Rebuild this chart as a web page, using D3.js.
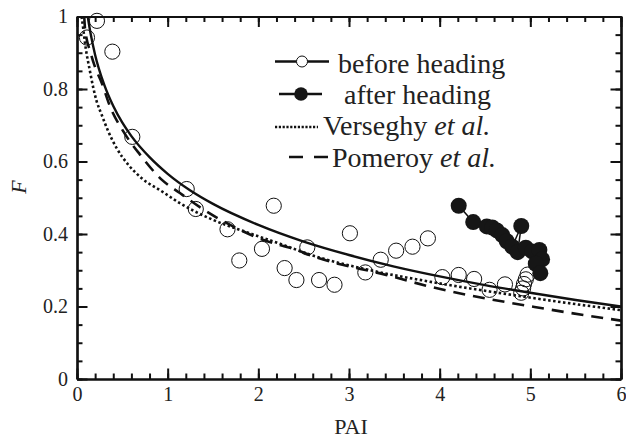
<!DOCTYPE html>
<html>
<head>
<meta charset="utf-8">
<script src="https://cdn.jsdelivr.net/npm/d3@7"></script>
<style>
  body { margin: 0; background: #fff; }
  svg text { font-family: "Liberation Serif", "Tinos", "Times New Roman", "DejaVu Serif", serif; }
</style>
</head>
<body>
<div id="chart"></div>
<script>
// measured points, before heading (open circles)
const beforePAI = [0.11, 0.22, 0.39, 0.61, 1.21, 1.31, 1.66, 1.79, 2.04, 2.17, 2.29, 2.42, 2.54, 2.67, 2.84,
  3.01, 3.18, 3.35, 3.52, 3.70, 3.87, 4.03, 4.21, 4.38, 4.55, 4.72, 4.90, 4.92, 4.93, 4.95, 4.97];
const beforeF = [0.942, 0.988, 0.903, 0.668, 0.524, 0.469, 0.413, 0.327, 0.359, 0.478, 0.306, 0.273, 0.363, 0.273, 0.260,
  0.402, 0.294, 0.329, 0.354, 0.365, 0.388, 0.281, 0.287, 0.276, 0.246, 0.261, 0.238, 0.250, 0.262, 0.275, 0.288];

// measured points, after heading (filled circles)
const afterPAI = [4.21, 4.37, 4.52, 4.58, 4.63, 4.69, 4.74, 4.80, 4.90, 4.86, 4.95, 5.02, 5.10, 5.13, 5.06, 5.11];
const afterF = [0.478, 0.433, 0.421, 0.418, 0.410, 0.397, 0.380, 0.365, 0.422, 0.350, 0.362, 0.352, 0.356, 0.330, 0.318, 0.292];

// fitted curve (solid)
const fitPAI = [0.118, 0.15, 0.2, 0.3, 0.4, 0.5, 0.6, 0.8, 1.0, 1.25, 1.5, 2, 2.5, 3, 3.5, 4, 4.5, 5, 5.5, 6];
const fitF = [1.0, 0.953, 0.894, 0.812, 0.753, 0.707, 0.670, 0.612, 0.566, 0.520, 0.483, 0.425, 0.379, 0.342, 0.310, 0.283, 0.259, 0.238, 0.218, 0.200];

// Verseghy et al. (dotted)
const versPAI = [0.05, 0.058, 0.096, 0.143, 0.18, 0.217, 0.272, 0.345, 0.437, 0.566, 0.713, 0.934, 1.135, 1.5, 1.87, 2.24, 2.61, 3.2, 3.9, 4.8, 5.4, 6];
const versF = [1.0, 0.987, 0.913, 0.849, 0.803, 0.766, 0.729, 0.683, 0.637, 0.591, 0.554, 0.518, 0.485, 0.439, 0.405, 0.373, 0.340, 0.302, 0.268, 0.232, 0.210, 0.190];

// Pomeroy et al. (dashed)
const pomPAI = [0.08, 0.088, 0.15, 0.2, 0.272, 0.364, 0.511, 0.695, 0.934, 1.135, 1.43, 1.72, 2.05, 2.42, 2.61, 3.41, 3.89, 5.18, 6];
const pomF = [1.0, 0.968, 0.90, 0.86, 0.817, 0.752, 0.683, 0.619, 0.550, 0.513, 0.462, 0.421, 0.384, 0.356, 0.338, 0.287, 0.255, 0.193, 0.161];

const xTicks = [0, 1, 2, 3, 4, 5, 6];
const yTicks = [0, 0.2, 0.4, 0.6, 0.8, 1];
const legendLabels = ["before heading", "after heading", "Verseghy", "Pomeroy"];

const width = 626, height = 437;
const margin = { top: 16.5, right: 5, bottom: 58, left: 77 };
const innerWidth = width - margin.left - margin.right;
const innerHeight = height - margin.top - margin.bottom;

const zip = (xs, ys) => xs.map((x, i) => ({ x, y: ys[i] }));

const svg = d3.select("#chart")
  .append("svg")
  .attr("width", width)
  .attr("height", height);

const inner = svg.append("g")
  .attr("transform", `translate(${margin.left}, ${margin.top})`);

const xScale = d3.scaleLinear().domain([0, 6]).range([0, innerWidth]);
const yScale = d3.scaleLinear().domain([0, 1]).range([innerHeight, 0]);

inner.append("clipPath").attr("id", "clip")
  .append("rect").attr("width", innerWidth).attr("height", innerHeight);

const plot = inner.append("g").attr("clip-path", "url(#clip)");

// curves
const line = d3.line()
  .x(d => xScale(d.x))
  .y(d => yScale(d.y))
  .curve(d3.curveMonotoneX);

plot.append("path")
  .datum(zip(versPAI, versF))
  .attr("d", line)
  .attr("fill", "none")
  .attr("stroke", "#111")
  .attr("stroke-width", 2.6)
  .attr("stroke-dasharray", "2.5,2.5");

plot.append("path")
  .datum(zip(pomPAI, pomF))
  .attr("d", line)
  .attr("fill", "none")
  .attr("stroke", "#111")
  .attr("stroke-width", 2.6)
  .attr("stroke-dasharray", "12,8");

plot.append("path")
  .datum(zip(fitPAI, fitF))
  .attr("d", line)
  .attr("fill", "none")
  .attr("stroke", "#111")
  .attr("stroke-width", 2.4);

// markers are not clipped (the top one overlaps the frame)
const marks = inner.append("g");

// open circles
marks.selectAll("circle.before")
  .data(zip(beforePAI, beforeF))
  .enter()
  .append("circle")
  .attr("class", "before")
  .attr("cx", d => xScale(d.x))
  .attr("cy", d => yScale(d.y))
  .attr("r", 7.6)
  .attr("fill", "none")
  .attr("stroke", "#111")
  .attr("stroke-width", 1);

// filled circles joined by a line
marks.append("path")
  .datum(zip(afterPAI, afterF))
  .attr("d", d3.line().x(d => xScale(d.x)).y(d => yScale(d.y)))
  .attr("fill", "none")
  .attr("stroke", "#111")
  .attr("stroke-width", 1.5);

marks.selectAll("circle.after")
  .data(zip(afterPAI, afterF))
  .enter()
  .append("circle")
  .attr("class", "after")
  .attr("cx", d => xScale(d.x))
  .attr("cy", d => yScale(d.y))
  .attr("r", 8)
  .attr("fill", "#161616");

// axes: major + minor ticks, inward, on all four sides
const xMinor = d3.range(0, 6.001, 0.2);
const yMinor = d3.range(0, 1.001, 0.05);

const styleAxis = g => {
  g.attr("font-family", null).attr("font-size", null);
  g.selectAll("path.domain").attr("stroke", "#111").attr("stroke-width", 2.2);
  g.selectAll(".tick line").attr("stroke", "#111").attr("stroke-width", 2);
  g.selectAll(".tick text")
    .attr("fill", "#222")
    .style("font-size", "20px");
};
const noLabels = g => g.selectAll(".tick text").remove();

// bottom
inner.append("g")
  .attr("transform", `translate(0, ${innerHeight})`)
  .call(d3.axisBottom(xScale).tickValues(xMinor).tickSize(-5.5).tickSizeOuter(0))
  .call(styleAxis).call(noLabels);
inner.append("g")
  .attr("transform", `translate(0, ${innerHeight})`)
  .call(d3.axisBottom(xScale).tickValues(xTicks).tickSize(-10.5).tickSizeOuter(0).tickPadding(8).tickFormat(d3.format("d")))
  .call(styleAxis);

// top
inner.append("g")
  .call(d3.axisTop(xScale).tickValues(xMinor).tickSize(-5.5).tickSizeOuter(0))
  .call(styleAxis).call(noLabels);
inner.append("g")
  .call(d3.axisTop(xScale).tickValues(xTicks).tickSize(-10.5).tickSizeOuter(0))
  .call(styleAxis).call(noLabels);

// left
inner.append("g")
  .call(d3.axisLeft(yScale).tickValues(yMinor).tickSize(-5.5).tickSizeOuter(0))
  .call(styleAxis).call(noLabels);
inner.append("g")
  .call(d3.axisLeft(yScale).tickValues(yTicks).tickSize(-10.5).tickSizeOuter(0).tickPadding(9).tickFormat(d => d === 0 || d === 1 ? d3.format("d")(d) : d3.format(".1f")(d)))
  .call(styleAxis);

// right
inner.append("g")
  .attr("transform", `translate(${innerWidth}, 0)`)
  .call(d3.axisRight(yScale).tickValues(yMinor).tickSize(-5.5).tickSizeOuter(0))
  .call(styleAxis).call(noLabels);
inner.append("g")
  .attr("transform", `translate(${innerWidth}, 0)`)
  .call(d3.axisRight(yScale).tickValues(yTicks).tickSize(-10.5).tickSizeOuter(0))
  .call(styleAxis).call(noLabels);

// x label
svg.append("text")
  .attr("x", 351)
  .attr("y", 434)
  .attr("text-anchor", "middle")
  .attr("fill", "#222")
  .style("font-size", "22px")
  .text("PAI");

// y label
svg.append("text")
  .attr("transform", "rotate(-90)")
  .attr("x", -187)
  .attr("y", 26)
  .attr("text-anchor", "middle")
  .attr("fill", "#222")
  .style("font-size", "22px")
  .style("font-style", "italic")
  .text("F");

// legend
const legend = svg.append("g");
const rowsY = [61.5, 94, 127, 157];
const textX = [338, 344, 323, 332];
const textY = [72.5, 103.5, 135, 166.5];

// row 1: line with open circle
legend.append("line")
  .attr("x1", 275).attr("x2", 329).attr("y1", rowsY[0]).attr("y2", rowsY[0])
  .attr("stroke", "#111").attr("stroke-width", 2.4);
legend.append("circle")
  .attr("cx", 302).attr("cy", rowsY[0]).attr("r", 5.5)
  .attr("fill", "#fff").attr("stroke", "#111").attr("stroke-width", 1);

// row 2: line with filled circle
legend.append("line")
  .attr("x1", 279).attr("x2", 322).attr("y1", rowsY[1]).attr("y2", rowsY[1])
  .attr("stroke", "#111").attr("stroke-width", 2.4);
legend.append("circle")
  .attr("cx", 301).attr("cy", rowsY[1]).attr("r", 6.8)
  .attr("fill", "#161616");

// row 3: dotted
legend.append("line")
  .attr("x1", 275).attr("x2", 318).attr("y1", rowsY[2]).attr("y2", rowsY[2])
  .attr("stroke", "#111").attr("stroke-width", 2.4)
  .attr("stroke-dasharray", "2.2,1.6");

// row 4: dashed
legend.append("line")
  .attr("x1", 289).attr("x2", 328).attr("y1", rowsY[3]).attr("y2", rowsY[3])
  .attr("stroke", "#111").attr("stroke-width", 2.6)
  .attr("stroke-dasharray", "14,11");

legendLabels.forEach((label, i) => {
  const t = legend.append("text")
    .attr("x", textX[i])
    .attr("y", textY[i])
    .attr("fill", "#222")
    .style("font-size", "28px");
  t.append("tspan").text(i < 2 ? label : label + " ");
  if (i >= 2) {
    t.append("tspan").style("font-style", "italic").text("et al.");
  }
});
</script>
</body>
</html>
